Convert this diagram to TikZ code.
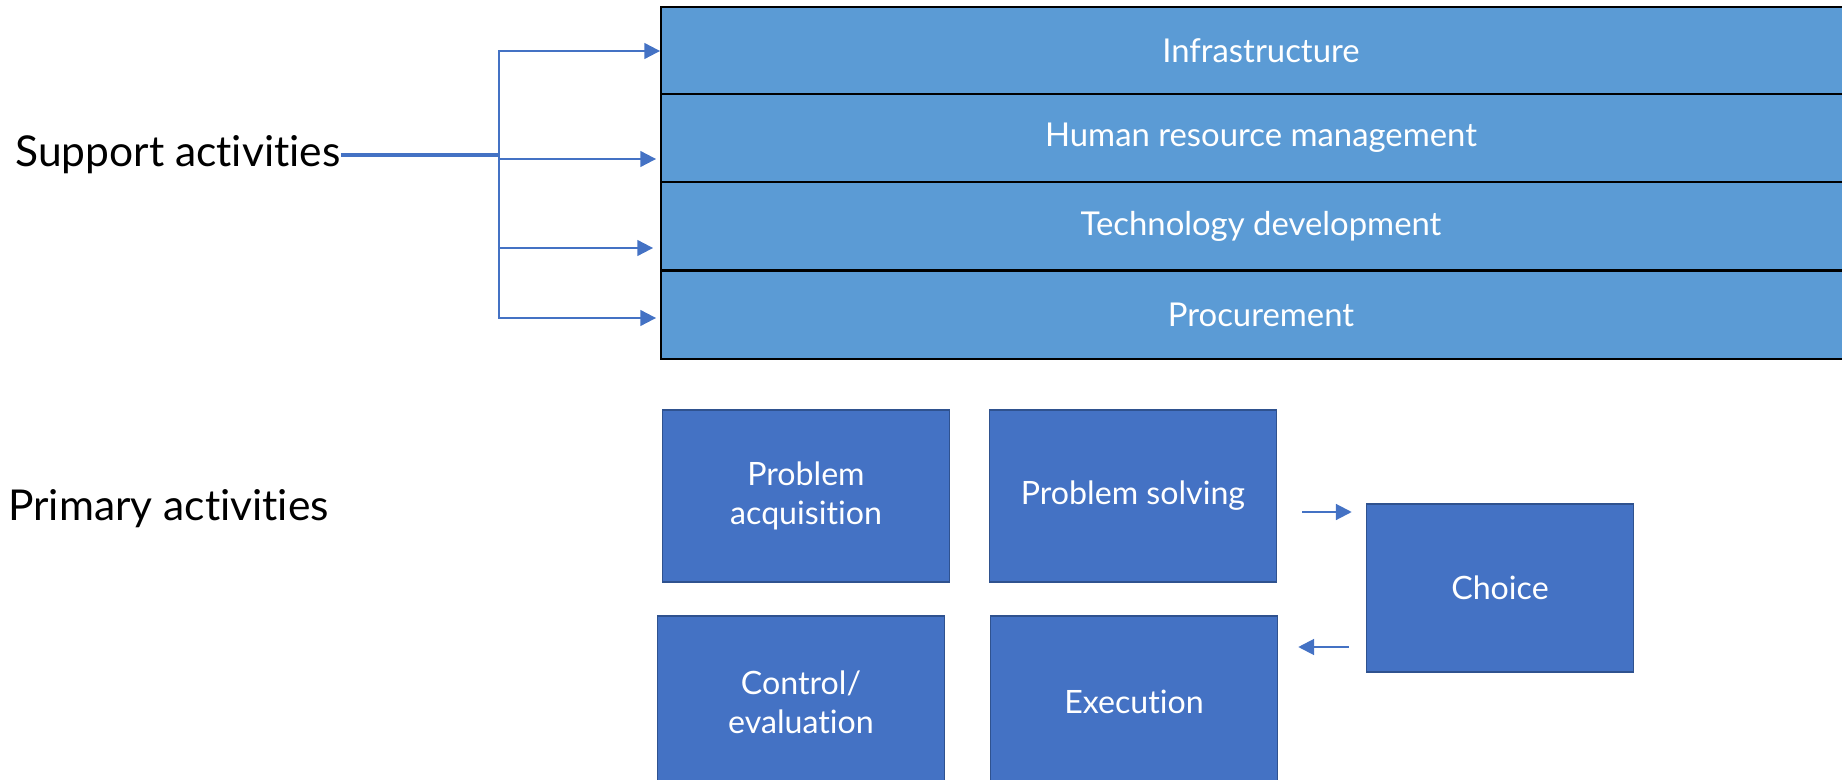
\documentclass[tikz,border=0pt]{standalone}
\usepackage{fontspec}
\setmainfont{Lato}[Ligatures={NoCommon,NoContextual}]
\usetikzlibrary{arrows.meta,calc}

\definecolor{barblue}{HTML}{5B9BD5}
\definecolor{boxblue}{HTML}{4472C4}
\definecolor{boxedge}{HTML}{2F528F}

\begin{document}
\begin{tikzpicture}[x=0.02cm,y=-0.02cm,
  bar/.style={draw=black,line width=1.2pt,fill=barblue,text=white,inner sep=0pt,
    minimum width=24cm,minimum height=1.76cm,font=\fontsize{18.7}{22}\selectfont},
  stage/.style={draw=boxedge,line width=0.9pt,fill=boxblue,text=white,inner sep=0pt,
    minimum width=5.74cm,minimum height=3.44cm,align=center,font=\fontsize{18.3}{22}\selectfont},
  side/.style={anchor=west,inner sep=0pt,font=\fontsize{24.2}{28}\selectfont},
  link/.style={draw=boxblue,line width=1.2pt},
  flow/.style={link,-{Triangle[length=9pt,width=9pt]}}]
\useasboundingbox (0,0) rectangle (1842,780);
\clip (0,0) rectangle (1842,780);

% support side
\node[bar] (infra) at (1261,51) {Infrastructure};
\node[bar] (hrm) at (1261,138) {Human resource management};
\node[bar] (tech) at (1261,226) {Technology development};
\node[bar] (proc) at (1261,315) {Procurement};

\node[side] (sup) at (15,155) {Support activities};
\node[side] (prim) at (8,509) {Primary activities};

\coordinate (fork) at (499,155);
\draw[link,line width=2.4pt] (sup.east) -- (sup.east -| fork);
\draw[flow] (fork) |- (infra.west);
\draw[flow] (fork) |- ($(hrm.west)+(-4,21)$);
\draw[flow] (fork) |- ($(tech.west)+(-7,22)$);
\draw[flow] (fork) |- ($(proc.west)+(-4,3)$);

% primary side
\node[stage] (acq) at (806,496) {Problem\\acquisition};
\node[stage] (solve) at (1133,496) {Problem solving};
\node[stage] (ctrl) at (801,702) {Control/\\evaluation};
\node[stage] (exec) at (1134,702) {Execution};
\node[stage,minimum width=5.34cm,minimum height=3.36cm] (choice) at (1500,588) {Choice};

\draw[flow] ($(solve.east)+(25,16)$) -- ($(choice.west)+(-14,-76)$);
\draw[flow] ($(choice.west)+(-17,59)$) -- ($(exec.east)+(20,-55)$);
\end{tikzpicture}
\end{document}
